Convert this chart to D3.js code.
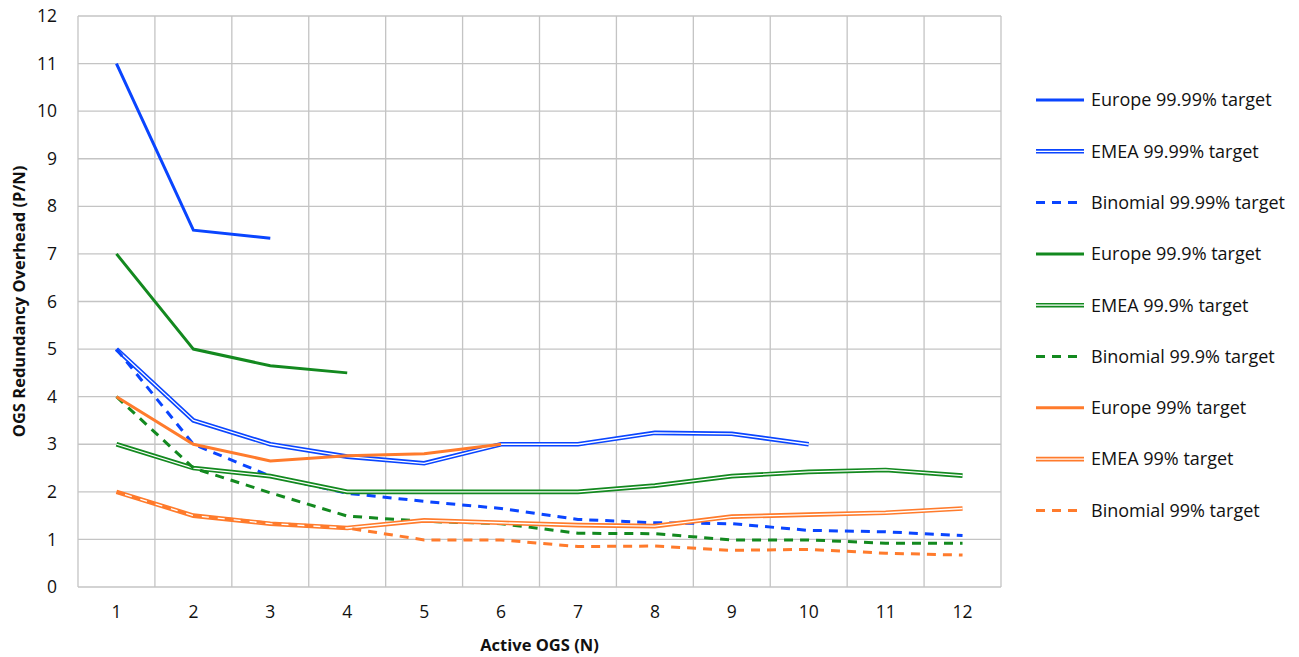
<!DOCTYPE html>
<html>
<head>
<meta charset="utf-8">
<title>OGS Redundancy Overhead</title>
<script src="https://d3js.org/d3.v7.min.js"></script>
<style>
  body { margin:0; background:#fff; }
  text { font-family: "Open Sans", sans-serif; fill:#111; }
  .grid line { stroke:#c4c4c4; stroke-width:1.3px; }
</style>
</head>
<body>
<svg id="chart" width="1299" height="657"></svg>
<script>
"use strict";

// x categories (active OGS)
const nValues = [1, 2, 3, 4, 5, 6, 7, 8, 9, 10, 11, 12];
const yTicks = [0, 1, 2, 3, 4, 5, 6, 7, 8, 9, 10, 11, 12];

// series values
const europe9999   = [11, 7.5, 7.33];
const emea9999     = [5.0, 3.5, 3.0, 2.74, 2.6, 3.0, 3.0, 3.24, 3.22, 3.0];
const binom9999    = [5.0, 3.0, 2.33, 1.97, 1.8, 1.65, 1.42, 1.35, 1.33, 1.19, 1.16, 1.08];
const europe999    = [7.0, 5.0, 4.65, 4.5];
const emea999      = [3.0, 2.5, 2.33, 2.0, 2.0, 2.0, 2.0, 2.13, 2.33, 2.42, 2.46, 2.34];
const binom999     = [4.0, 2.5, 1.98, 1.49, 1.38, 1.33, 1.13, 1.12, 0.99, 0.99, 0.92, 0.92];
const europe99     = [4.0, 3.0, 2.65, 2.76, 2.8, 3.0];
const emea99       = [2.0, 1.5, 1.33, 1.24, 1.4, 1.35, 1.3, 1.28, 1.48, 1.52, 1.56, 1.65];
const binom99      = [2.0, 1.5, 1.34, 1.24, 0.99, 0.99, 0.85, 0.86, 0.77, 0.79, 0.71, 0.67];

const blue = "#0a45ff", green = "#13891f", orange = "#ff7b2c";

const series = [
  { name: "Europe 99.99% target",   values: europe9999, color: blue,   style: "solid" },
  { name: "EMEA 99.99% target",     values: emea9999,   color: blue,   style: "double" },
  { name: "Binomial 99.99% target", values: binom9999,  color: blue,   style: "dash" },
  { name: "Europe 99.9% target",    values: europe999,  color: green,  style: "solid" },
  { name: "EMEA 99.9% target",      values: emea999,    color: green,  style: "double" },
  { name: "Binomial 99.9% target",  values: binom999,   color: green,  style: "dash" },
  { name: "Europe 99% target",      values: europe99,   color: orange, style: "solid" },
  { name: "EMEA 99% target",        values: emea99,     color: orange, style: "double" },
  { name: "Binomial 99% target",    values: binom99,    color: orange, style: "dash" }
];

const svg = d3.select("#chart");
const margin = { top: 16, right: 298, bottom: 70, left: 78 };
const width = 1299 - margin.left - margin.right;
const height = 657 - margin.top - margin.bottom;

const g = svg.append("g").attr("transform", `translate(${margin.left},${margin.top})`);

const xScale = d3.scaleBand().domain(nValues).range([0, width]);
const yScale = d3.scaleLinear().domain([0, 12]).range([height, 0]);
const xPos = i => xScale(nValues[i]) + xScale.bandwidth() / 2;

// grid
const grid = g.append("g").attr("class", "grid");
grid.selectAll(".h").data(yTicks).enter().append("line")
  .attr("x1", 0).attr("x2", width)
  .attr("y1", d => yScale(d)).attr("y2", d => yScale(d));
grid.selectAll(".v").data([0].concat(nValues)).enter().append("line")
  .attr("x1", (d, i) => i === 0 ? 0 : xScale(d) + xScale.bandwidth())
  .attr("x2", (d, i) => i === 0 ? 0 : xScale(d) + xScale.bandwidth())
  .attr("y1", 0).attr("y2", height);

// axes labels
const yAxis = g.append("g").call(d3.axisLeft(yScale).tickValues(yTicks).tickSize(0).tickPadding(21));
yAxis.select(".domain").remove();
yAxis.selectAll("text").style("font-size", "17.5px").style("font-family", "'Open Sans', sans-serif").attr("fill", "#111");

const xAxis = g.append("g").attr("transform", `translate(0,${height})`)
  .call(d3.axisBottom(xScale).tickSize(0).tickPadding(19));
xAxis.select(".domain").remove();
xAxis.selectAll("text").style("font-size", "17.5px").style("font-family", "'Open Sans', sans-serif").attr("fill", "#111");

// titles
svg.append("text")
  .attr("x", margin.left + width / 2).attr("y", 651)
  .attr("text-anchor", "middle")
  .style("font-size", "16.5px").style("font-weight", "bold")
  .text("Active OGS (N)");
svg.append("text")
  .attr("transform", `translate(25,${margin.top + height / 2}) rotate(-90)`)
  .attr("text-anchor", "middle")
  .style("font-size", "16.5px").style("font-weight", "bold")
  .text("OGS Redundancy Overhead (P/N)");

// lines
const line = d3.line().x((d, i) => xPos(i)).y(d => yScale(d));

function drawLine(sel, s, path) {
  if (s.style === "double") {
    sel.append("path").attr("d", path).attr("fill", "none")
      .attr("stroke", s.color).attr("stroke-width", 4.6);
    sel.append("path").attr("d", path).attr("fill", "none")
      .attr("stroke", "#fff").attr("stroke-width", 1.3);
  } else {
    sel.append("path").attr("d", path).attr("fill", "none")
      .attr("stroke", s.color).attr("stroke-width", 3)
      .attr("stroke-dasharray", s.style === "dash" ? "9,7" : null);
  }
}

const lines = g.append("g");
series.forEach(s => {
  drawLine(lines.append("g"), s, line(s.values));
});

// legend
const legend = svg.append("g").attr("transform", "translate(1036,100)");
series.forEach((s, i) => {
  const row = legend.append("g").attr("transform", `translate(0,${i * 51.3})`);
  drawLine(row, s, "M0,0L48,0");
  row.append("text").attr("x", 55).attr("y", 0).attr("dy", "0.35em")
    .style("font-size", "18px").text(s.name);
});
</script>
</body>
</html>
